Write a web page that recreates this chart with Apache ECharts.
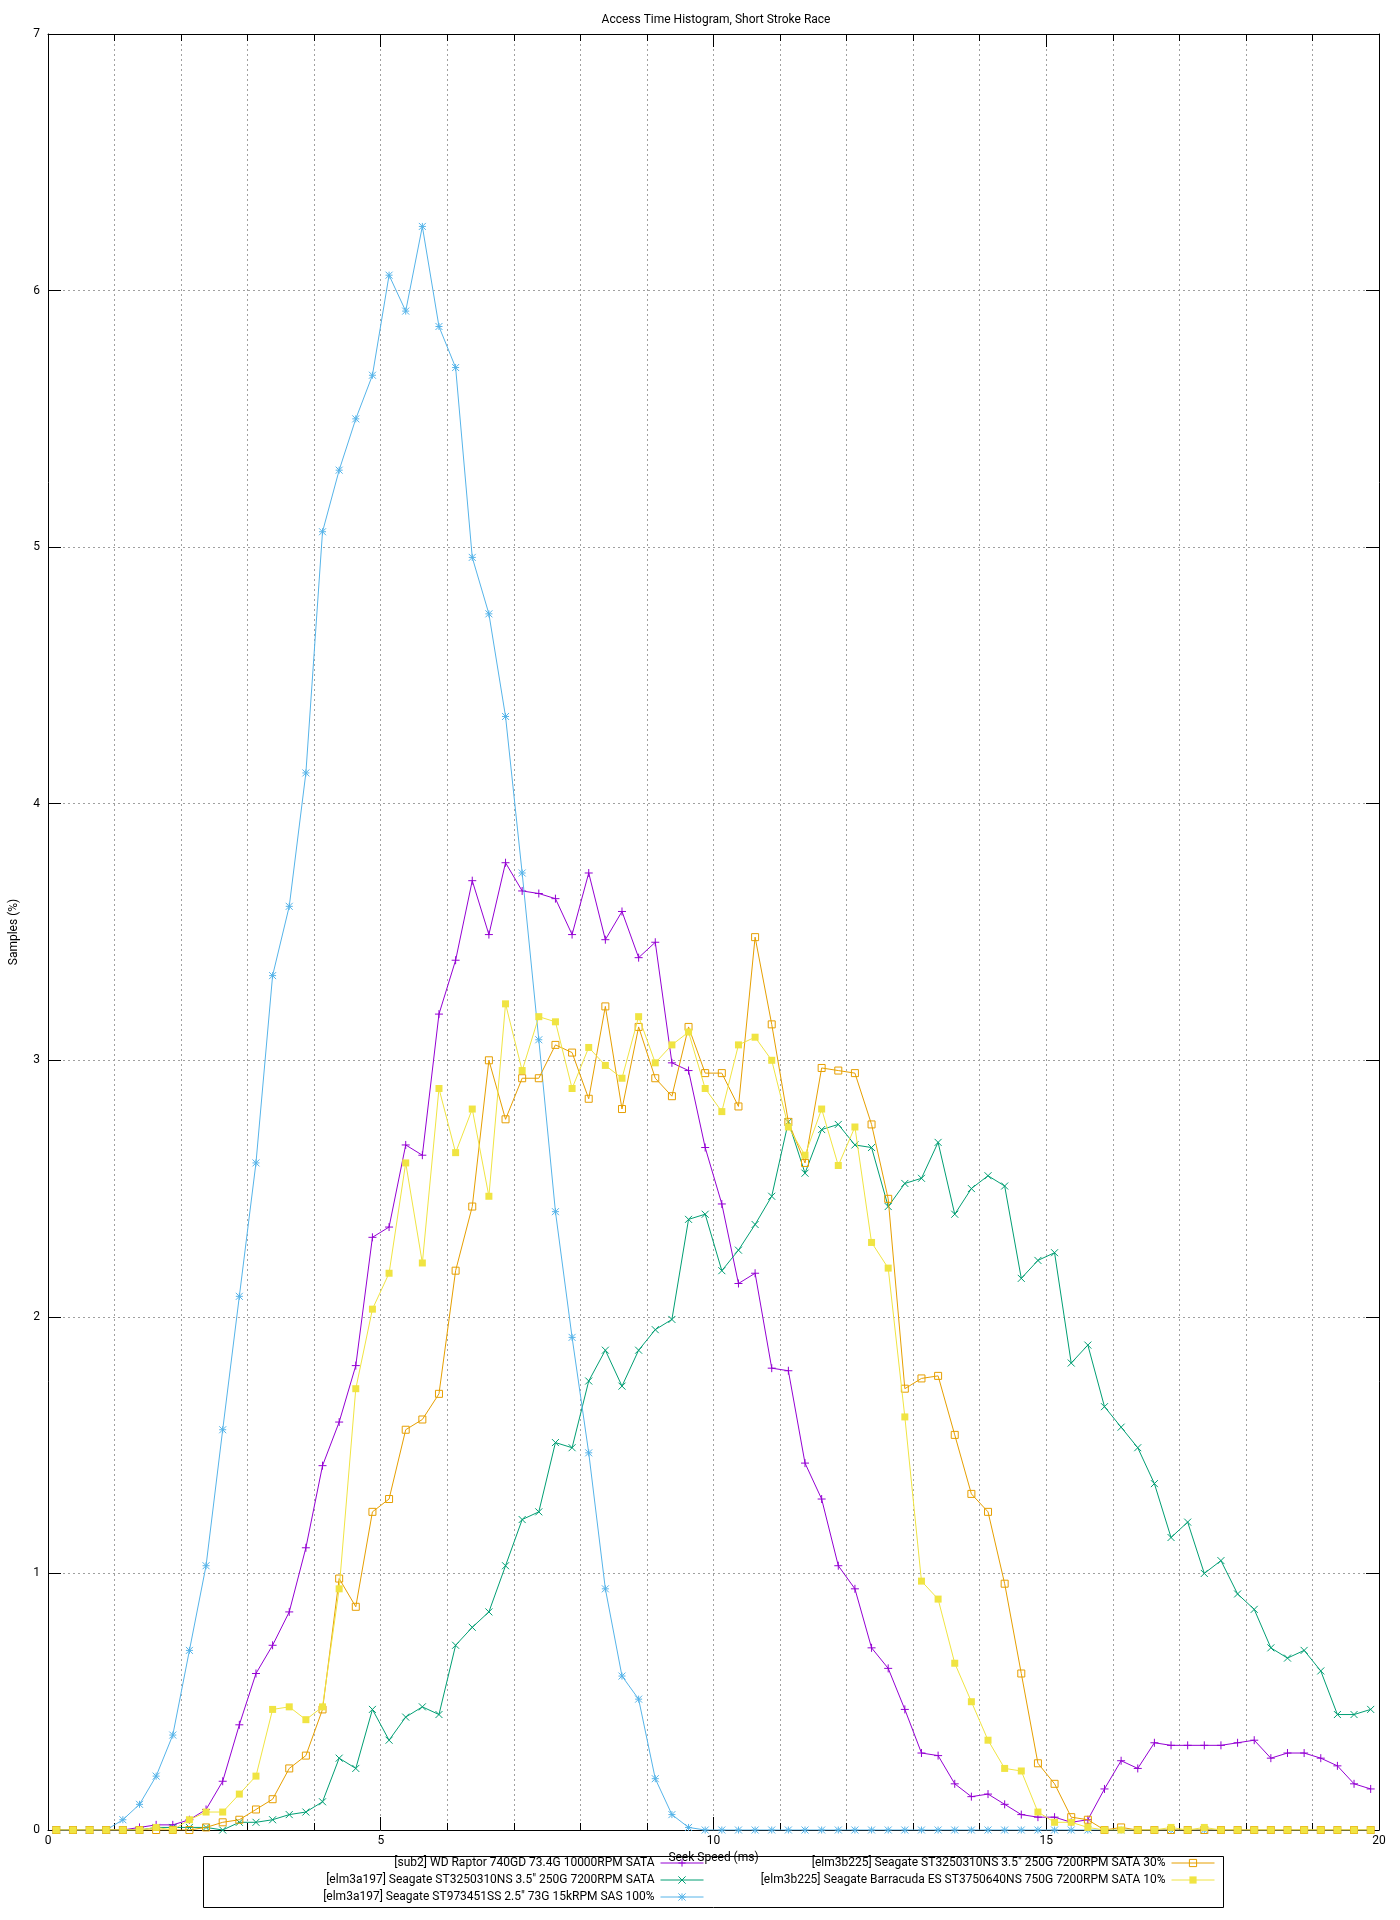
<!DOCTYPE html>
<html>
<head>
<meta charset="utf-8">
<script src="https://cdn.jsdelivr.net/npm/echarts@6/dist/echarts.min.js"></script>
<style>
html,body{margin:0;padding:0;background:#fff;}
#chart{width:1400px;height:1920px;}
</style>
</head>
<body>
<div id="chart"></div>
<script>
// ---- data ----
var chartTitle = 'Access Time Histogram, Short Stroke Race';
var xAxisName = 'Seek Speed (ms)';
var yAxisName = 'Samples (%)';
var xTicks = [0, 5, 10, 15, 20];
var yTicks = [0, 1, 2, 3, 4, 5, 6, 7];

var seekMs = [0.125,0.375,0.625,0.875,1.125,1.375,1.625,1.875,2.125,2.375,
  2.625,2.875,3.125,3.375,3.625,3.875,4.125,4.375,4.625,4.875,
  5.125,5.375,5.625,5.875,6.125,6.375,6.625,6.875,7.125,7.375,
  7.625,7.875,8.125,8.375,8.625,8.875,9.125,9.375,9.625,9.875,
  10.125,10.375,10.625,10.875,11.125,11.375,11.625,11.875,12.125,12.375,
  12.625,12.875,13.125,13.375,13.625,13.875,14.125,14.375,14.625,14.875,
  15.125,15.375,15.625,15.875,16.125,16.375,16.625,16.875,17.125,17.375,
  17.625,17.875,18.125,18.375,18.625,18.875,19.125,19.375,19.625,19.875];

var seriesNames = [
  '[sub2] WD Raptor 740GD 73.4G 10000RPM SATA',
  '[elm3a197] Seagate ST3250310NS 3.5" 250G 7200RPM SATA',
  '[elm3a197] Seagate ST973451SS 2.5" 73G 15kRPM SAS 100%',
  '[elm3b225] Seagate ST3250310NS 3.5" 250G 7200RPM SATA 30%',
  '[elm3b225] Seagate Barracuda ES ST3750640NS 750G 7200RPM SATA 10%'
];

var raptor = [0,0,0,0,0,0.01,0.02,0.02,0.04,0.08,
  0.19,0.41,0.61,0.72,0.85,1.10,1.42,1.59,1.81,2.31,
  2.35,2.67,2.63,3.18,3.39,3.70,3.49,3.77,3.66,3.65,
  3.63,3.49,3.73,3.47,3.58,3.40,3.46,2.99,2.96,2.66,
  2.44,2.13,2.17,1.80,1.79,1.43,1.29,1.03,0.94,0.71,
  0.63,0.47,0.30,0.29,0.18,0.13,0.14,0.10,0.06,0.05,
  0.05,0.03,0.04,0.16,0.27,0.24,0.34,0.33,0.33,0.33,
  0.33,0.34,0.35,0.28,0.30,0.30,0.28,0.25,0.18,0.16];

var st3250sata = [0,0,0,0,0,0,0.01,0.01,0.01,0.01,
  0,0.03,0.03,0.04,0.06,0.07,0.11,0.28,0.24,0.47,
  0.35,0.44,0.48,0.45,0.72,0.79,0.85,1.03,1.21,1.24,
  1.51,1.49,1.75,1.87,1.73,1.87,1.95,1.99,2.38,2.40,
  2.18,2.26,2.36,2.47,2.76,2.56,2.73,2.75,2.67,2.66,
  2.43,2.52,2.54,2.68,2.40,2.50,2.55,2.51,2.15,2.22,
  2.25,1.82,1.89,1.65,1.57,1.49,1.35,1.14,1.20,1.00,
  1.05,0.92,0.86,0.71,0.67,0.70,0.62,0.45,0.45,0.47];

var st973sas = [0,0,0,0,0.04,0.10,0.21,0.37,0.70,1.03,
  1.56,2.08,2.60,3.33,3.60,4.12,5.06,5.30,5.50,5.67,
  6.06,5.92,6.25,5.86,5.70,4.96,4.74,4.34,3.73,3.08,
  2.41,1.92,1.47,0.94,0.60,0.51,0.20,0.06,0.01,0,
  0,0,0,0,0,0,0,0,0,0,
  0,0,0,0,0,0,0,0,0,0,
  0,0,0,0,0,0,0,0,0,0,
  0,0,0,0,0,0,0,0,0,0];

var st3250sata30 = [0,0,0,0,0,0,0,0,0,0.01,
  0.03,0.04,0.08,0.12,0.24,0.29,0.47,0.98,0.87,1.24,
  1.29,1.56,1.60,1.70,2.18,2.43,3.00,2.77,2.93,2.93,
  3.06,3.03,2.85,3.21,2.81,3.13,2.93,2.86,3.13,2.95,
  2.95,2.82,3.48,3.14,2.76,2.60,2.97,2.96,2.95,2.75,
  2.46,1.72,1.76,1.77,1.54,1.31,1.24,0.96,0.61,0.26,
  0.18,0.05,0.04,0,0.01,0,0,0,0,0,
  0,0,0,0,0,0,0,0,0,0];

var barracuda10 = [0,0,0,0,0,0,0.01,0,0.04,0.07,
  0.07,0.14,0.21,0.47,0.48,0.43,0.48,0.94,1.72,2.03,
  2.17,2.60,2.21,2.89,2.64,2.81,2.47,3.22,2.96,3.17,
  3.15,2.89,3.05,2.98,2.93,3.17,2.99,3.06,3.11,2.89,
  2.80,3.06,3.09,3.00,2.74,2.63,2.81,2.59,2.74,2.29,
  2.19,1.61,0.97,0.90,0.65,0.50,0.35,0.24,0.23,0.07,
  0.03,0.03,0.01,0,0,0,0,0.01,0,0.01,
  0,0,0,0,0,0,0,0,0,0];

// ---- presentation ----
var FONT = 'Roboto';
var colors = ['#9400d3', '#009e73', '#56b4e9', '#e69f00', '#f0e442'];
var PLUS = 'path://M1,0L1,2M0,1L2,1';
var CROSS = 'path://M0,0L2,2M0,2L2,0';
var STAR = 'path://M1,0L1,2M0,1L2,1M0,0L2,2M0,2L2,0';

function pairs(vals) {
  return vals.map(function (v, i) { return [seekMs[i], v]; });
}

var symbolDefs = [
  {symbol: PLUS, size: 8, fill: 'rgba(0,0,0,0)', border: 1},
  {symbol: CROSS, size: 7, fill: 'rgba(0,0,0,0)', border: 1},
  {symbol: STAR, size: 7, fill: 'rgba(0,0,0,0)', border: 1},
  {symbol: 'rect', size: 7, fill: 'rgba(0,0,0,0)', border: 1},
  {symbol: 'rect', size: 7, fill: null, border: 0}
];
var dataSets = [raptor, st3250sata, st973sas, st3250sata30, barracuda10];

var series = dataSets.map(function (vals, i) {
  var d = symbolDefs[i];
  return {
    name: seriesNames[i],
    type: 'line',
    data: pairs(vals),
    showAllSymbol: true,
    symbol: d.symbol,
    symbolSize: d.size,
    lineStyle: {color: colors[i], width: 1},
    itemStyle: {
      color: d.fill === null ? colors[i] : d.fill,
      borderColor: colors[i],
      borderWidth: d.border
    },
    emphasis: {disabled: true},
    animation: false,
    z: 2 + i
  };
});

var legendPos = [
  {right: 696, top: 1857},
  {right: 696, top: 1874},
  {right: 696, top: 1891},
  {right: 185, top: 1857},
  {right: 185, top: 1874}
];
var legends = seriesNames.map(function (n, i) {
  return {
    data: [n],
    right: legendPos[i].right,
    top: legendPos[i].top,
    orient: 'horizontal',
    align: 'right',
    padding: 0,
    itemWidth: 43,
    itemHeight: 9,
    selectedMode: false,
    lineStyle: {width: 1},
    itemStyle: {borderWidth: symbolDefs[i].border},
    textStyle: {fontFamily: FONT, fontSize: 12, color: '#000', padding: [0, 1, 0, 0]}
  };
});

var dotted = {color: '#a0a0a0', width: 1, type: [2, 3]};
var axisLineStyle = {color: '#000', width: 1};

var option = {
  backgroundColor: '#fff',
  animation: false,
  color: colors,
  textStyle: {fontFamily: FONT},
  title: {
    text: chartTitle,
    left: 711,
    top: 9,
    textAlign: 'center',
    textStyle: {fontFamily: FONT, fontSize: 12, fontWeight: 'normal', color: '#000'}
  },
  legend: legends,
  grid: {left: 44, right: 21, top: 34, bottom: 90, containLabel: false},
  xAxis: [
    {
      type: 'value', position: 'bottom', min: xTicks[0], max: xTicks[xTicks.length - 1], interval: 5,
      name: xAxisName, nameLocation: 'middle', nameGap: 22,
      nameTextStyle: {fontFamily: FONT, fontSize: 12, color: '#000'},
      axisLine: {show: true, onZero: false, lineStyle: axisLineStyle},
      axisTick: {show: true, inside: true, length: 13, lineStyle: axisLineStyle},
      minorTick: {show: true, splitNumber: 5, length: 7, lineStyle: axisLineStyle},
      axisLabel: {show: true, margin: 5, fontFamily: FONT, fontSize: 12, color: '#000'},
      splitLine: {show: true, lineStyle: dotted},
      minorSplitLine: {show: true, lineStyle: dotted}
    },
    {
      type: 'value', position: 'top', min: xTicks[0], max: xTicks[xTicks.length - 1], interval: 5,
      axisLine: {show: true, onZero: false, lineStyle: axisLineStyle},
      axisTick: {show: true, inside: true, length: 13, lineStyle: axisLineStyle},
      minorTick: {show: true, splitNumber: 5, length: 7, lineStyle: axisLineStyle},
      axisLabel: {show: false},
      splitLine: {show: false}
    }
  ],
  yAxis: [
    {
      type: 'value', position: 'left', min: yTicks[0], max: yTicks[yTicks.length - 1], interval: 1,
      name: yAxisName, nameLocation: 'middle', nameGap: 28, nameRotate: 90,
      nameTextStyle: {fontFamily: FONT, fontSize: 12, color: '#000'},
      axisLine: {show: true, onZero: false, lineStyle: axisLineStyle},
      axisTick: {show: true, inside: true, length: 13, lineStyle: axisLineStyle},
      axisLabel: {show: true, margin: 8, fontFamily: FONT, fontSize: 12, color: '#000'},
      splitLine: {show: true, lineStyle: dotted}
    },
    {
      type: 'value', position: 'right', min: yTicks[0], max: yTicks[yTicks.length - 1], interval: 1,
      axisLine: {show: true, onZero: false, lineStyle: axisLineStyle},
      axisTick: {show: true, inside: true, length: 13, lineStyle: axisLineStyle},
      axisLabel: {show: false},
      splitLine: {show: false}
    }
  ],
  graphic: [
    {
      type: 'rect', left: 201, top: 1854, z: 0, silent: true,
      shape: {width: 1020, height: 51},
      style: {fill: 'none', stroke: '#000', lineWidth: 1}
    }
  ],
  series: series
};

var chart = echarts.init(document.getElementById('chart'), null, {renderer: 'canvas'});
chart.setOption(option);
</script>
</body>
</html>
